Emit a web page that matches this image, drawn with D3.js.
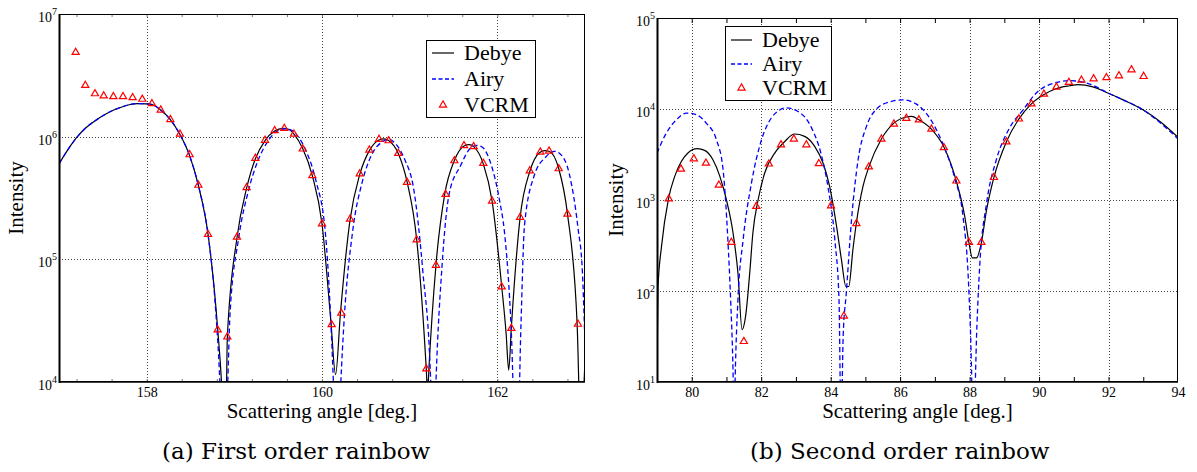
<!DOCTYPE html>
<html><head><meta charset="utf-8">
<script src="https://cdn.jsdelivr.net/npm/d3@7"></script>
<style>
body{margin:0;background:#fff}
svg{display:block}
text{font-family:"Liberation Serif","Times New Roman",serif;fill:#000}
.cap{font-family:"DejaVu Serif",serif}
</style>
</head><body><svg id="c" width="1197" height="472"></svg>
<script>
// ---------- (a) First order rainbow ----------
const debyeA_x = [157.00,157.10,157.20,157.30,157.40,157.50,157.60,157.70,157.80,157.90,158.00,158.06,158.16,158.27,158.38,158.49,158.59,158.70,158.81,158.86,158.89,158.91,158.92,159.03,159.14,159.24,159.35,159.46,159.55,159.62,159.68,159.78,159.89,160.00,160.10,160.155,160.21,160.32,160.43,160.54,160.65,160.71,160.76,160.87,160.97,161.08,161.19,161.205,161.22,161.30,161.40,161.51,161.62,161.68,161.73,161.84,161.94,162.05,162.10,162.13,162.16,162.26,162.37,162.48,162.54,162.59,162.70,162.80,162.91,162.95,163.00];
const debyeA_y = [6.0e5,7.8e5,9.8e5,1.17e6,1.33e6,1.48e6,1.62e6,1.73e6,1.82e6,1.86e6,1.85e6,1.83e6,1.65e6,1.38e6,1.04e6,7.0e5,4.0e5,1.6e5,2.7e4,8e3,2e3,8e3,2.3e4,1.5e5,3.8e5,6.6e5,9.3e5,1.11e6,1.17e6,1.15e6,1.05e6,8.0e5,4.8e5,1.95e5,3.2e4,1.15e4,3.6e4,2.1e5,4.9e5,7.7e5,9.4e5,9.6e5,9.3e5,7.3e5,4.3e5,1.45e5,1.25e4,8e3,1.3e4,9e4,3.4e5,6.4e5,8.4e5,8.6e5,8.3e5,6.0e5,3.0e5,6.0e4,2.5e4,1.25e4,2.8e4,2.2e5,5.2e5,7.4e5,7.7e5,7.6e5,5.5e5,2.35e5,3.0e4,4e3,1.5e4];
const airyA_x = [157.00,157.10,157.20,157.30,157.40,157.50,157.60,157.70,157.80,157.90,158.00,158.06,158.16,158.27,158.38,158.49,158.59,158.70,158.78,158.835,158.87,158.925,158.95,159.05,159.16,159.27,159.38,159.48,159.58,159.66,159.72,159.82,159.93,160.04,160.13,160.17,160.215,160.25,160.35,160.46,160.57,160.68,160.77,160.83,160.94,161.05,161.15,161.24,161.27,161.30,161.37,161.45,161.58,161.69,161.77,161.83,161.93,162.03,162.08,162.16,162.22,162.27,162.31,162.42,162.55,162.65,162.72,162.82,162.92,162.97,163.00];
const airyA_y = [6.0e5,7.8e5,9.8e5,1.17e6,1.33e6,1.48e6,1.62e6,1.73e6,1.82e6,1.86e6,1.85e6,1.83e6,1.65e6,1.38e6,1.04e6,7.0e5,4.0e5,1.6e5,4.5e4,1e4,2e3,1e4,3.5e4,1.5e5,3.6e5,6.4e5,9.1e5,1.10e6,1.16e6,1.12e6,1.02e6,7.6e5,4.4e5,1.6e5,1e4,1.5e3,1e4,3e4,1.7e5,4.3e5,7.2e5,9.0e5,9.5e5,8.9e5,6.6e5,3.6e5,8e4,1e4,2e3,1e4,9e4,3.4e5,5.8e5,8.0e5,8.5e5,8.2e5,5.9e5,2.9e5,1.7e5,2.5e4,1.5e3,3e4,1.9e5,4.8e5,6.8e5,7.6e5,7.2e5,5.0e5,1.8e5,8e4,2e4];
const vcrmA_x = [157.19,157.30,157.41,157.51,157.62,157.73,157.84,157.95,158.06,158.16,158.27,158.38,158.49,158.59,158.70,158.81,158.92,159.03,159.14,159.24,159.35,159.46,159.57,159.68,159.78,159.89,160.00,160.11,160.22,160.32,160.43,160.54,160.65,160.76,160.87,160.97,161.08,161.19,161.30,161.41,161.51,161.62,161.73,161.84,161.94,162.05,162.16,162.26,162.37,162.49,162.59,162.70,162.80,162.92];
const vcrmA_y = [4.87e6,2.62e6,2.24e6,2.15e6,2.12e6,2.12e6,2.08e6,2.02e6,1.86e6,1.65e6,1.38e6,1.05e6,7.13e5,4.02e5,1.60e5,2.66e4,2.33e4,1.52e5,3.84e5,6.67e5,9.35e5,1.12e6,1.17e6,1.05e6,7.94e5,4.81e5,1.95e5,2.94e4,3.64e4,2.13e5,4.97e5,7.79e5,9.53e5,9.27e5,7.32e5,4.25e5,1.44e5,1.28e4,8.95e4,3.39e5,6.37e5,8.45e5,8.29e5,6.07e5,2.99e5,5.96e4,2.74e4,2.20e5,5.26e5,7.50e5,7.64e5,5.48e5,2.34e5,2.96e4];
const xTicksA = [158,160,162];
const xMinorA = [157.2,157.6,158,158.4,158.8,159.2,159.6,160,160.4,160.8,161.2,161.6,162,162.4,162.8];
const yTicksA = [1e4,1e5,1e6,1e7];

// ---------- (b) Second order rainbow ----------
const debyeB_x = [79.00,79.03,79.13,79.33,79.51,79.70,79.89,80.16,80.37,80.61,80.81,81.00,81.19,81.33,81.45,81.55,81.67,81.76,81.91,82.10,82.39,82.68,82.96,83.25,83.54,83.78,83.97,84.17,84.31,84.44,84.52,84.64,84.74,84.93,85.10,85.46,85.82,86.18,86.33,86.54,86.90,87.26,87.62,87.86,87.98,88.08,88.20,88.34,88.49,88.70,89.06,89.42,89.78,90.13,90.48,90.88,91.12,91.55,92.03,92.42,92.99,93.48,94.00];
const debyeB_y = [15,112,309,1.03e3,1.82e3,2.65e3,3.28e3,3.66e3,3.51e3,2.77e3,1.82e3,1.0e3,434,158,37.6,52.6,158,434,1.0e3,1.98e3,3.28e3,4.40e3,5.31e3,5.0e3,3.88e3,2.55e3,1.41e3,513,221,112,112,284,559,1.41e3,2.31e3,4.68e3,7.0e3,8.17e3,8.3e3,7.6e3,6.0e3,3.82e3,1.60e3,660,342,231,231,342,782,1.77e3,4.37e3,7.8e3,1.14e4,1.43e4,1.67e4,1.80e4,1.85e4,1.75e4,1.47e4,1.26e4,9.8e3,7.3e3,4.9e3];
const airyB_x = [79.00,79.27,79.56,79.85,80.13,80.42,80.71,80.90,81.04,81.12,81.19,81.22,81.25,81.33,81.48,81.72,82.01,82.29,82.50,82.70,83.06,83.45,83.73,83.92,84.12,84.24,84.30,84.36,84.45,84.60,84.79,85.03,85.32,85.70,86.08,86.47,86.85,87.24,87.57,87.81,87.96,88.03,88.11,88.21,88.29,88.49,88.77,89.16,89.54,89.92,90.50,90.88,91.46,92.03,92.42,92.99,93.48,94.00];
const airyB_y = [3.28e3,5.45e3,7.63e3,9.03e3,8.65e3,7.0e3,4.6e3,2.2e3,366,80,12.6,3,11,80,366,1.54e3,4.6e3,7.96e3,9.6e3,1.03e4,9.4e3,6.2e3,3.15e3,1.41e3,366,80,3,32,95,603,2.77e3,6.44e3,1.0e4,1.2e4,1.26e4,1.13e4,7.96e3,4.05e3,1.75e3,660,145,32,3,41,186,927,2.77e3,6.28e3,9.8e3,1.5e4,1.96e4,2.05e4,1.88e4,1.47e4,1.26e4,9.8e3,7.1e3,4.7e3];
const vcrmB_x = [79.34,79.69,80.06,80.41,80.78,81.14,81.50,81.86,82.22,82.57,82.94,83.30,83.66,84.01,84.38,84.74,85.10,85.46,85.82,86.18,86.54,86.90,87.26,87.62,87.98,88.34,88.70,89.06,89.42,89.78,90.14,90.50,90.86,91.22,91.57,91.94,92.30,92.66,93.01];
const vcrmB_y = [1.03e3,2.19e3,2.84e3,2.54e3,1.46e3,342,27.9,851,2.49e3,4.05e3,4.68e3,4.05e3,2.51e3,861,53.1,552,2.31e3,4.68e3,6.84e3,7.88e3,7.59e3,6.03e3,3.76e3,1.62e3,342,342,1.77e3,4.35e3,7.78e3,1.14e4,1.46e4,1.74e4,1.96e4,2.08e4,2.15e4,2.21e4,2.32e4,2.70e4,2.28e4];
const xTicksB = [80,82,84,86,88,90,92,94];
const xGridB = [80,82,84,86,88,90,92];
const xMinorB = [80,81,82,83,84,85,86,87,88,89,90,91,92,93];
const yTicksB = [1e1,1e2,1e3,1e4,1e5];

const seriesNames = ["Debye","Airy","VCRM"];
const xLabel = "Scattering angle [deg.]";
const yLabel = "Intensity";

const svg = d3.select('#c');
const zip = (a,b) => a.map((v,i)=>[v,b[i]]);

function panel(cfg){
  const g = svg.append('g');
  const x = d3.scaleLinear().domain(cfg.xDomain).range([cfg.left, cfg.right]);
  const y = d3.scaleLog().domain(cfg.yDomain).range([cfg.bottom, cfg.top]);
  svg.append('clipPath').attr('id', cfg.id).append('rect')
    .attr('x', cfg.left).attr('y', cfg.top)
    .attr('width', cfg.right-cfg.left).attr('height', cfg.bottom-cfg.top);

  // grid
  const gg = g.append('g').attr('stroke','#444').attr('stroke-width',1).attr('stroke-dasharray','1,2');
  gg.selectAll('.gx').data(cfg.gridX).join('line')
    .attr('x1', d=>Math.round(x(d))+0.5).attr('x2', d=>Math.round(x(d))+0.5)
    .attr('y1', cfg.top).attr('y2', cfg.bottom);
  gg.selectAll('.gy').data(cfg.yTicks.slice(1,-1)).join('line')
    .attr('y1', d=>Math.round(y(d))+0.5).attr('y2', d=>Math.round(y(d))+0.5)
    .attr('x1', cfg.left).attr('x2', cfg.right);

  // minor ticks (top & bottom), pointing inward
  const tb = d3.axisBottom(x).tickValues(cfg.xMinor).tickSize(-cfg.tickLen).tickFormat('');
  const tt = d3.axisTop(x).tickValues(cfg.xMinor).tickSize(-cfg.tickLen).tickFormat('');
  g.append('g').attr('transform',`translate(0,${cfg.bottom})`).call(tb).call(s=>s.select('.domain').remove())
    .selectAll('line').attr('stroke', cfg.tickColor);
  g.append('g').attr('transform',`translate(0,${cfg.top})`).call(tt).call(s=>s.select('.domain').remove())
    .selectAll('line').attr('stroke', cfg.tickColor);

  // x labels
  const xl = d3.axisBottom(x).tickValues(cfg.xTicks).tickSize(0).tickPadding(0).tickFormat(d3.format('d'));
  const xa = g.append('g').attr('transform',`translate(0,${cfg.bottom})`).call(xl);
  xa.select('.domain').remove();
  xa.selectAll('text').attr('y', 15).attr('dy', 0).style('font-size','14px')
    .style('font-family','"Liberation Serif",serif').attr('fill','#000');

  // y labels with superscript exponents
  const yl = g.append('g');
  cfg.yTicks.forEach(t=>{
    const tx = yl.append('text').attr('x', cfg.left-2).attr('y', y(t)+cfg.ylabDy)
      .attr('text-anchor','end').style('font-size','14px');
    tx.append('tspan').text('10');
    tx.append('tspan').attr('dy',-7).style('font-size','10px').text(String(Math.round(Math.log10(t))));
  });

  // curves
  const line = d3.line().x(d=>x(d[0])).y(d=>y(Math.max(d[1],0.01))).curve(d3.curveMonotoneX);
  const cg = g.append('g').attr('clip-path', `url(#${cfg.id})`);
  cg.append('path').datum(zip(cfg.debyeX, cfg.debyeY)).attr('d', line)
    .attr('fill','none').attr('stroke','#000').attr('stroke-width',1.2);
  cg.append('path').datum(zip(cfg.airyX, cfg.airyY)).attr('d', line)
    .attr('fill','none').attr('stroke','#0000ff').attr('stroke-width',1.3).attr('stroke-dasharray','5,3');
  const tri = d3.symbol(d3.symbolTriangle, 22);
  cg.selectAll('.v').data(zip(cfg.vcrmX, cfg.vcrmY)).join('path')
    .attr('d', tri).attr('transform', d=>`translate(${x(d[0])},${y(d[1])})`)
    .attr('fill','none').attr('stroke','#ff0000').attr('stroke-width',1.2);

  // frame
  g.append('rect').attr('x',cfg.left+0.5).attr('y',cfg.top+0.5)
    .attr('width',cfg.right-cfg.left-1).attr('height',cfg.bottom-cfg.top-1)
    .attr('fill','none').attr('stroke','#000').attr('stroke-width',1);
  g.append('line').attr('x1',cfg.left+0.5).attr('x2',cfg.left+0.5).attr('y1',cfg.top).attr('y2',cfg.bottom+1)
    .attr('stroke','#000').attr('stroke-width',2);
  g.append('line').attr('x1',cfg.left).attr('x2',cfg.right).attr('y1',cfg.bottom).attr('y2',cfg.bottom)
    .attr('stroke','#000').attr('stroke-width',1.6);

  // axis titles
  g.append('text').attr('x', (cfg.left+cfg.right)/2).attr('y', 418).attr('text-anchor','middle')
    .style('font-size','21px').text(xLabel);
  g.append('text').attr('transform',`translate(${cfg.ylabX},${(cfg.top+cfg.bottom)/2}) rotate(-90)`)
    .attr('text-anchor','middle').style('font-size','21px').text(yLabel);

  // legend
  const L = cfg.legend;
  const lg = g.append('g');
  lg.append('rect').attr('x',L.x+0.5).attr('y',L.y+0.5).attr('width',L.w).attr('height',L.h)
    .attr('fill','#fff').attr('stroke','#000').attr('stroke-width',1);
  seriesNames.forEach((n,i)=>{
    const cy = L.y + L.first + i*L.step;
    if(i===0) lg.append('line').attr('x1',L.x+L.l1).attr('x2',L.x+L.l2).attr('y1',cy).attr('y2',cy)
      .attr('stroke','#000').attr('stroke-width',1.2);
    if(i===1) lg.append('line').attr('x1',L.x+L.l1).attr('x2',L.x+L.l2).attr('y1',cy).attr('y2',cy)
      .attr('stroke','#0000ff').attr('stroke-width',1.3).attr('stroke-dasharray','4,2.5');
    if(i===2) lg.append('path').attr('d',tri).attr('transform',`translate(${L.x+(L.l1+L.l2)/2},${cy})`)
      .attr('fill','none').attr('stroke','#ff0000').attr('stroke-width',1.2);
    lg.append('text').attr('x',L.x+L.tx).attr('y',cy+7).style('font-size','22px').text(n);
  });

  // caption
  svg.append('text').attr('class','cap').attr('x',cfg.capX).attr('y',459)
    .style('font-size','23px').text(cfg.caption);
}

panel({id:'clipA', left:59, right:585, top:14, bottom:382,
  xDomain:[157,163], yDomain:[1e4,1e7],
  gridX:xTicksA, xTicks:xTicksA, xMinor:xMinorA, yTicks:yTicksA, tickLen:3, tickColor:'#777',
  debyeX:debyeA_x, debyeY:debyeA_y, airyX:airyA_x, airyY:airyA_y, vcrmX:vcrmA_x, vcrmY:vcrmA_y,
  ylabDy:8, ylabX:23,
  legend:{x:426,y:40,w:109,h:77,first:13,step:26,l1:6,l2:28,tx:38},
  capX:162, caption:'(a) First order rainbow'});

panel({id:'clipB', left:657, right:1178, top:18, bottom:382,
  xDomain:[79,94], yDomain:[1e1,1e5],
  gridX:xGridB, xTicks:xTicksB, xMinor:xMinorB, yTicks:yTicksB, tickLen:5, tickColor:'#000',
  debyeX:debyeB_x, debyeY:debyeB_y, airyX:airyB_x, airyY:airyB_y, vcrmX:vcrmB_x, vcrmY:vcrmB_y,
  ylabDy:8, ylabX:623,
  legend:{x:725,y:26,w:106,h:74,first:14,step:24,l1:6,l2:27,tx:37},
  capX:750, caption:'(b) Second order rainbow'});
</script>
</body></html>
